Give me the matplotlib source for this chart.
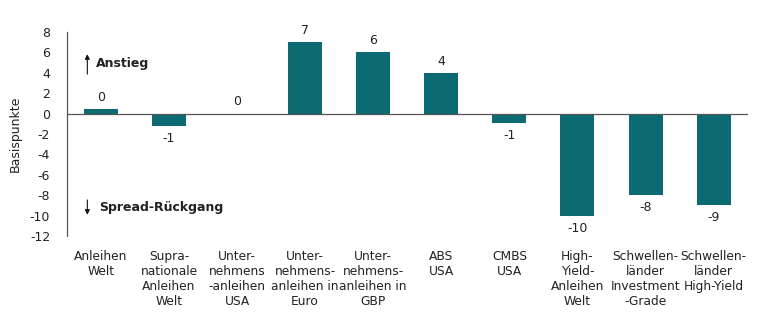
import numpy as np
import matplotlib.pyplot as plt

plt.rcParams['font.family'] = ['DejaVu Sans']

kategorien = [
    "Anleihen\nWelt",
    "Supra-\nnationale\nAnleihen\nWelt",
    "Unter-\nnehmens\n-anleihen\nUSA",
    "Unter-\nnehmens-\nanleihen in\nEuro",
    "Unter-\nnehmens-\nanleihen in\nGBP",
    "ABS\nUSA",
    "CMBS\nUSA",
    "High-\nYield-\nAnleihen\nWelt",
    "Schwellen-\nländer\nInvestment\n-Grade",
    "Schwellen-\nländer\nHigh-Yield",
]
werte = [0.45, -1.2, 0.0, 7.0, 6.0, 4.0, -0.9, -10.0, -8.0, -9.0]
etiketten = ["0", "-1", "0", "7", "6", "4", "-1", "-10", "-8", "-9"]
yticks = list(range(-12, 9, 2))

farbe = "#0c6a72"
grau = "#555555"
text = "#222222"

fig = plt.figure(figsize=(7.78, 3.25), dpi=100)
ax = fig.add_axes([0.086, 0.274, 0.875, 0.6275])

x = np.arange(len(werte))
ax.bar(x, werte, width=0.5, color=farbe, zorder=2)

for xi, w, lab in zip(x, werte, etiketten):
    if w >= 0:
        ax.text(xi, w + 0.5, lab, ha="center", va="bottom", fontsize=9, color=text)
    else:
        ax.text(xi, w - 0.6, lab, ha="center", va="top", fontsize=9, color=text)

ax.axhline(0, color=grau, lw=0.9, zorder=3)

ax.set_xlim(-0.5, 9.5)
ax.set_ylim(-12, 8)
ax.set_yticks(yticks)
ax.set_yticklabels([str(t) for t in yticks], fontsize=9, color=text)
ax.tick_params(axis="y", length=0, pad=12)
ax.set_xticks(x)
ax.set_xticklabels(kategorien, fontsize=8.8, color=text, linespacing=1.2, va="top")
ax.tick_params(axis="x", length=0, pad=10)

for s in ["top", "right", "bottom"]:
    ax.spines[s].set_visible(False)
ax.spines["left"].set_color(grau)
ax.spines["left"].set_linewidth(0.9)

ax.set_ylabel("Basispunkte", fontsize=9, color=text, labelpad=6)

# Richtungspfeile
ax.annotate("", xy=(-0.2, 6.1), xytext=(-0.2, 3.6),
            arrowprops=dict(arrowstyle="-|>", color="#111111", lw=0.8, mutation_scale=7))
ax.text(-0.08, 4.9, "Anstieg", fontsize=9, fontweight="bold", va="center", color=text)
ax.annotate("", xy=(-0.2, -10.2), xytext=(-0.2, -8.2),
            arrowprops=dict(arrowstyle="-|>", color="#111111", lw=0.8, mutation_scale=7))
ax.text(-0.03, -9.2, "Spread-Rückgang", fontsize=9, fontweight="bold", va="center", color=text)

fig.savefig("out.png", dpi=100)
